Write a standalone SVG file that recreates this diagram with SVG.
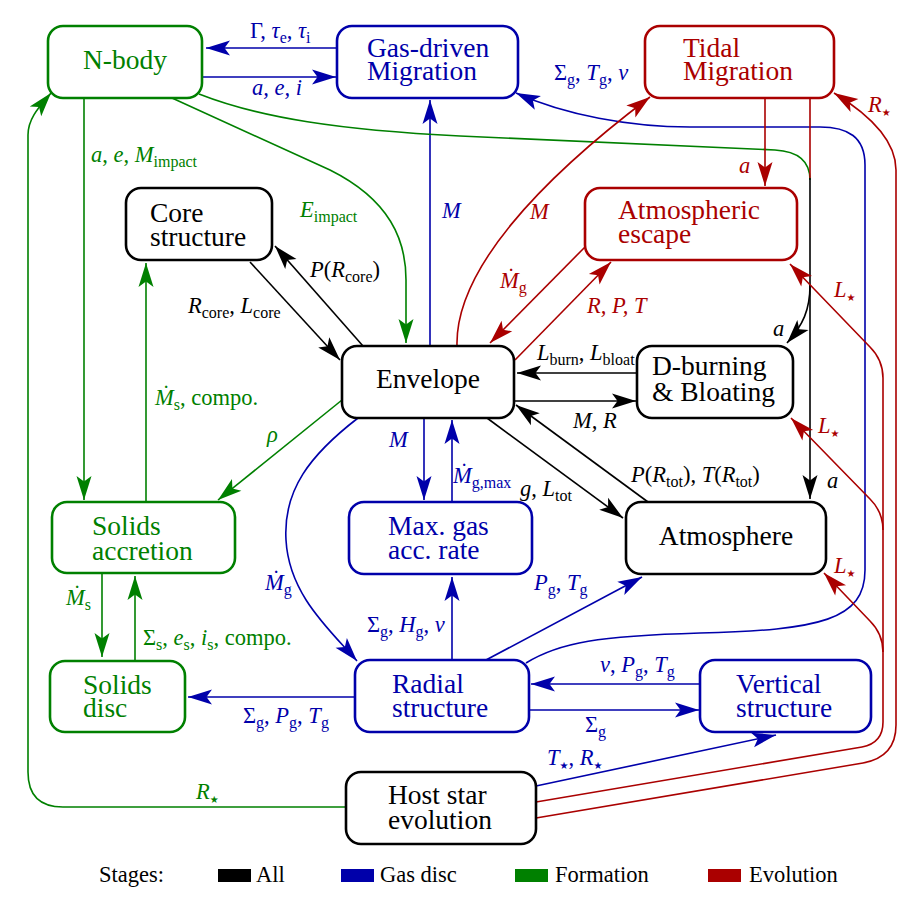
<svg xmlns="http://www.w3.org/2000/svg" width="915" height="899" viewBox="0 0 915 899" font-family="'Liberation Serif', 'Times New Roman', serif">
<style>
.nt{font-family:'Liberation Serif','Times New Roman',serif;font-size:27.5px;}
.lb{font-family:'Liberation Serif','Times New Roman',serif;font-size:22.5px;}
.i{font-style:italic;}
.sb{font-size:16px;font-style:normal;}
.st{font-family:'DejaVu Sans',sans-serif;font-size:10px;font-style:normal;}
.nk rect,.nb rect,.ng rect,.nr rect{fill:#fff;stroke-width:2.6;}
.nk rect{stroke:#000;} .nb rect{stroke:#0000AA;} .ng rect{stroke:#008000;} .nr rect{stroke:#AA0000;}
.fk{fill:#000;} .fb{fill:#0000AA;} .fg{fill:#008000;} .fr{fill:#AA0000;}
.c{fill:none;stroke-width:1.6;}
.ck{stroke:#000;} .cb{stroke:#0000AA;} .cg{stroke:#008000;} .cr{stroke:#AA0000;}
.ck.a{marker-end:url(#ak);} .cb.a{marker-end:url(#ab);} .cg.a{marker-end:url(#ag);} .cr.a{marker-end:url(#ar);}
</style>
<defs>
<marker id="ak" markerUnits="userSpaceOnUse" markerWidth="26" markerHeight="18" viewBox="-25 -9 26 18" refX="0" refY="0" orient="auto"><path d="M0,0 L-24,-7.5 L-18.5,0 L-24,7.5 Z" fill="#000"/></marker>
<marker id="ab" markerUnits="userSpaceOnUse" markerWidth="26" markerHeight="18" viewBox="-25 -9 26 18" refX="0" refY="0" orient="auto"><path d="M0,0 L-24,-7.5 L-18.5,0 L-24,7.5 Z" fill="#0000AA"/></marker>
<marker id="ag" markerUnits="userSpaceOnUse" markerWidth="26" markerHeight="18" viewBox="-25 -9 26 18" refX="0" refY="0" orient="auto"><path d="M0,0 L-24,-7.5 L-18.5,0 L-24,7.5 Z" fill="#008000"/></marker>
<marker id="ar" markerUnits="userSpaceOnUse" markerWidth="26" markerHeight="18" viewBox="-25 -9 26 18" refX="0" refY="0" orient="auto"><path d="M0,0 L-24,-7.5 L-18.5,0 L-24,7.5 Z" fill="#AA0000"/></marker>
</defs>
<rect width="915" height="899" fill="#fff"/>
<g id="connectors">
<path class="c cb a" d="M337,48 L206,48"/>
<path class="c cb a" d="M202,77 L336,77"/>
<path class="c cb a" d="M430,346 L430,100"/>
<path class="c cb a" d="M526,663 C560,642 600,636 700,633 C820,630 865,620 865,570 L865,165 C865,137 848,127 820,127 L690,127 C630,127 565,115 516,93"/>
<path class="c cb a" d="M424,418 L424,500"/>
<path class="c cb a" d="M452,502 L452,420"/>
<path class="c cb a" d="M452,660 L452,577"/>
<path class="c cb a" d="M486,660 L642,577"/>
<path class="c cb a" d="M358,418 C310,455 283,490 286,540 C289,595 330,630 357,661"/>
<path class="c cb a" d="M355,697 L188,697"/>
<path class="c cb a" d="M700,684 L531,684"/>
<path class="c cb a" d="M529,710 L699,710"/>
<path class="c cb a" d="M536,786 L776,735"/>
<path class="c cg a" d="M84,98 L84,500"/>
<path class="c cg a" d="M346,807 L63,807 Q28,807 28,772 L28,135 C28,118 40,106 51,93"/>
<path class="c cg a" d="M172,98 L330,170 C390,200 406,240 406,280 L406,343"/>
<path class="c cg" d="M199,94 C260,118 340,130 460,136 L775,150 Q810,152 810,180"/>
<path class="c cg a" d="M342,400 L218,500"/>
<path class="c cg a" d="M146,502 L146,263"/>
<path class="c cg a" d="M102,573 L102,657"/>
<path class="c cg a" d="M135,661 L135,576"/>
<path class="c cr" d="M810,98 L810,178"/>
<path class="c ck a" d="M810,178 L810,499"/>
<path class="c ck a" d="M810,285 C810,310 803,325 787,343"/>
<path class="c cr a" d="M765,98 L765,186"/>
<path class="c cr a" d="M457,346 C455,270 540,180 650,97"/>
<path class="c cr a" d="M585,247 L490,343"/>
<path class="c cr a" d="M515,360 L611,262"/>
<path class="c cr a" d="M536,818 L863,763 Q896,757 896,725 L896,170 C896,140 870,115 834,93"/>
<path class="c cr a" d="M536,802 L862,747 Q883,743 883,722 L883,378 Q883,360 870,347 L790,264"/>
<path class="c cr a" d="M883,530 Q883,512 870,499 L791,418"/>
<path class="c cr a" d="M883,652 Q883,634 870,621 L824,573"/>
<path class="c ck a" d="M250,262 L340,360"/>
<path class="c ck a" d="M363,346 L275,246"/>
<path class="c ck a" d="M637,373 L517,373"/>
<path class="c ck a" d="M514,401 L636,401"/>
<path class="c ck a" d="M487,418 L623,518"/>
<path class="c ck a" d="M648,502 L516,405"/>
</g>
<g id="labels">
<text class="lb fb" x="250" y="38">Γ, <tspan class="i">τ</tspan><tspan class="sb" dy="4.5">e</tspan><tspan dy="-4.5">, </tspan><tspan class="i">τ</tspan><tspan class="sb" dy="4.5">i</tspan></text>
<text class="lb fb i" x="252" y="95">a, e, i</text>
<text class="lb fg" x="91" y="162"><tspan class="i">a</tspan>, <tspan class="i">e</tspan>, <tspan class="i">M</tspan><tspan class="sb" dy="4.5">impact</tspan></text>
<text class="lb fg" x="300" y="217"><tspan class="i">E</tspan><tspan class="sb" dy="4.5">impact</tspan></text>
<text class="lb fb i" x="442" y="218">M</text>
<text class="lb fk" x="188" y="313"><tspan class="i">R</tspan><tspan class="sb" dy="4.5">core</tspan><tspan dy="-4.5">, </tspan><tspan class="i">L</tspan><tspan class="sb" dy="4.5">core</tspan></text>
<text class="lb fk" x="310" y="277"><tspan class="i">P</tspan>(<tspan class="i">R</tspan><tspan class="sb" dy="4.5">core</tspan><tspan dy="-4.5">)</tspan></text>
<text class="lb fb" x="554" y="80">Σ<tspan class="sb" dy="4.5">g</tspan><tspan dy="-4.5">, </tspan><tspan class="i">T</tspan><tspan class="sb" dy="4.5">g</tspan><tspan dy="-4.5">, </tspan><tspan class="i">ν</tspan></text>
<text class="lb fr i" x="530" y="219">M</text>
<text class="lb fr i" x="739" y="173">a</text>
<text class="lb fr" x="868" y="112"><tspan class="i">R</tspan><tspan class="st" dy="4">★</tspan></text>
<text class="lb fr" x="500" y="288"><tspan class="i">Ṁ</tspan><tspan class="sb" dy="4.5">g</tspan></text>
<text class="lb fr i" x="587" y="313">R, P, T</text>
<text class="lb fr" x="834" y="297"><tspan class="i">L</tspan><tspan class="st" dy="4">★</tspan></text>
<text class="lb fk i" x="773" y="336">a</text>
<text class="lb fk" x="537" y="360"><tspan class="i">L</tspan><tspan class="sb" dy="4.5">burn</tspan><tspan dy="-4.5">, </tspan><tspan class="i">L</tspan><tspan class="sb" dy="4.5">bloat</tspan></text>
<text class="lb fk i" x="573" y="428">M, R</text>
<text class="lb fr" x="818" y="433"><tspan class="i">L</tspan><tspan class="st" dy="4">★</tspan></text>
<text class="lb fg" x="155" y="405"><tspan class="i">Ṁ</tspan><tspan class="sb" dy="4.5">s</tspan><tspan dy="-4.5">, compo.</tspan></text>
<text class="lb fg i" x="267" y="442">ρ</text>
<text class="lb fb i" x="389" y="447">M</text>
<text class="lb fb" x="453" y="483"><tspan class="i">Ṁ</tspan><tspan class="sb" dy="4.5">g,max</tspan></text>
<text class="lb fk" x="520" y="496"><tspan class="i">g</tspan>, <tspan class="i">L</tspan><tspan class="sb" dy="4.5">tot</tspan></text>
<text class="lb fk" x="631" y="482"><tspan class="i">P</tspan>(<tspan class="i">R</tspan><tspan class="sb" dy="4.5">tot</tspan><tspan dy="-4.5">), </tspan><tspan class="i">T</tspan>(<tspan class="i">R</tspan><tspan class="sb" dy="4.5">tot</tspan><tspan dy="-4.5">)</tspan></text>
<text class="lb fk i" x="827" y="488">a</text>
<text class="lb fr" x="834" y="573"><tspan class="i">L</tspan><tspan class="st" dy="4">★</tspan></text>
<text class="lb fb" x="265" y="590"><tspan class="i">Ṁ</tspan><tspan class="sb" dy="4.5">g</tspan></text>
<text class="lb fb" x="534" y="590"><tspan class="i">P</tspan><tspan class="sb" dy="4.5">g</tspan><tspan dy="-4.5">, </tspan><tspan class="i">T</tspan><tspan class="sb" dy="4.5">g</tspan></text>
<text class="lb fg" x="66" y="605"><tspan class="i">Ṁ</tspan><tspan class="sb" dy="4.5">s</tspan></text>
<text class="lb fb" x="367" y="632">Σ<tspan class="sb" dy="4.5">g</tspan><tspan dy="-4.5">, </tspan><tspan class="i">H</tspan><tspan class="sb" dy="4.5">g</tspan><tspan dy="-4.5">, </tspan><tspan class="i">ν</tspan></text>
<text class="lb fg" x="143" y="645">Σ<tspan class="sb" dy="4.5">s</tspan><tspan dy="-4.5">, </tspan><tspan class="i">e</tspan><tspan class="sb" dy="4.5">s</tspan><tspan dy="-4.5">, </tspan><tspan class="i">i</tspan><tspan class="sb" dy="4.5">s</tspan><tspan dy="-4.5">, compo.</tspan></text>
<text class="lb fb" x="600" y="672"><tspan class="i">ν</tspan>, <tspan class="i">P</tspan><tspan class="sb" dy="4.5">g</tspan><tspan dy="-4.5">, </tspan><tspan class="i">T</tspan><tspan class="sb" dy="4.5">g</tspan></text>
<text class="lb fb" x="243" y="723">Σ<tspan class="sb" dy="4.5">g</tspan><tspan dy="-4.5">, </tspan><tspan class="i">P</tspan><tspan class="sb" dy="4.5">g</tspan><tspan dy="-4.5">, </tspan><tspan class="i">T</tspan><tspan class="sb" dy="4.5">g</tspan></text>
<text class="lb fb" x="585" y="732">Σ<tspan class="sb" dy="4.5">g</tspan></text>
<text class="lb fb" x="547" y="765"><tspan class="i">T</tspan><tspan class="st" dy="4">★</tspan><tspan dy="-4">, </tspan><tspan class="i">R</tspan><tspan class="st" dy="4">★</tspan></text>
<text class="lb fg" x="196" y="799"><tspan class="i">R</tspan><tspan class="st" dy="4">★</tspan></text>
</g>
<g id="n-body" class="ng"><rect x="48" y="26" width="154" height="72" rx="15"/><text class="nt fg" x="125" y="69" text-anchor="middle">N-body</text></g>
<g id="gas-driven-migration" class="nb"><rect x="337" y="26" width="181" height="72" rx="15"/><text class="nt fb" x="367" y="57">Gas-driven</text><text class="nt fb" x="367" y="80">Migration</text></g>
<g id="tidal-migration" class="nr"><rect x="645" y="26" width="189" height="72" rx="15"/><text class="nt fr" x="683" y="57">Tidal</text><text class="nt fr" x="683" y="80">Migration</text></g>
<g id="core-structure" class="nk"><rect x="126" y="188" width="146" height="72" rx="15"/><text class="nt fk" x="150" y="222">Core</text><text class="nt fk" x="150" y="246">structure</text></g>
<g id="atmospheric-escape" class="nr"><rect x="585" y="188" width="212" height="72" rx="15"/><text class="nt fr" x="618" y="219">Atmospheric</text><text class="nt fr" x="618" y="243">escape</text></g>
<g id="envelope" class="nk"><rect x="342" y="346" width="172" height="72" rx="15"/><text class="nt fk" x="428" y="388" text-anchor="middle">Envelope</text></g>
<g id="d-burning" class="nk"><rect x="637" y="346" width="156" height="72" rx="15"/><text class="nt fk" x="652" y="375">D-burning</text><text class="nt fk" x="652" y="401">&amp; Bloating</text></g>
<g id="max-gas" class="nb"><rect x="349" y="502" width="183" height="72" rx="15"/><text class="nt fb" x="388" y="535">Max. gas</text><text class="nt fb" x="388" y="559">acc. rate</text></g>
<g id="atmosphere" class="nk"><rect x="626" y="502" width="200" height="72" rx="15"/><text class="nt fk" x="726" y="545" text-anchor="middle">Atmosphere</text></g>
<g id="solids-accretion" class="ng"><rect x="52" y="502" width="183" height="71" rx="15"/><text class="nt fg" x="92" y="535">Solids</text><text class="nt fg" x="92" y="560">accretion</text></g>
<g id="solids-disc" class="ng"><rect x="50" y="661" width="135" height="71" rx="15"/><text class="nt fg" x="83" y="694">Solids</text><text class="nt fg" x="83" y="717">disc</text></g>
<g id="radial-structure" class="nb"><rect x="355" y="660" width="174" height="72" rx="15"/><text class="nt fb" x="392" y="693">Radial</text><text class="nt fb" x="392" y="717">structure</text></g>
<g id="vertical-structure" class="nb"><rect x="700" y="660" width="171" height="72" rx="15"/><text class="nt fb" x="736" y="693">Vertical</text><text class="nt fb" x="736" y="717">structure</text></g>
<g id="host-star" class="nk"><rect x="346" y="772" width="190" height="72" rx="15"/><text class="nt fk" x="388" y="804">Host star</text><text class="nt fk" x="388" y="829">evolution</text></g>
<g id="legend">
<text class="lb fk" x="99" y="882">Stages:</text>
<rect x="218" y="869" width="33" height="13" fill="#000"/><text class="lb fk" x="256" y="882">All</text>
<rect x="341" y="869" width="33" height="13" fill="#0000AA"/><text class="lb fk" x="380" y="882">Gas disc</text>
<rect x="515" y="869" width="33" height="13" fill="#008000"/><text class="lb fk" x="555" y="882">Formation</text>
<rect x="708" y="869" width="33" height="13" fill="#AA0000"/><text class="lb fk" x="749" y="882">Evolution</text>
</g>
</svg>
